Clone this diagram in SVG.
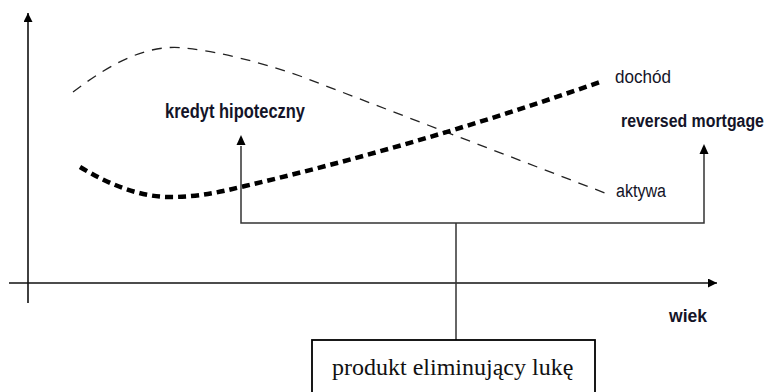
<svg xmlns="http://www.w3.org/2000/svg" width="772" height="392" viewBox="0 0 772 392">
<style>
.axis{stroke:#111;stroke-width:1.6;fill:none}
.br{stroke:#333;stroke-width:1.5;fill:none}
.thin{stroke:#222;stroke-width:1.3;fill:none;stroke-dasharray:10 8}
.thick{stroke:#000;stroke-width:4.5;fill:none;stroke-dasharray:8 5}
.lbl{font-family:"Liberation Sans",Arial,sans-serif;fill:#141428}
.b{font-weight:bold}
.box{fill:#fff;stroke:#000;stroke-width:1.8}
.serif{font-family:"Liberation Serif","Times New Roman",serif;font-size:24px;fill:#111}
</style>
<defs>
<marker id="ah" viewBox="0 0 10 10" refX="10" refY="5" markerWidth="10" markerHeight="9" markerUnits="userSpaceOnUse" orient="auto">
<path d="M0,0 L10,5 L0,10 Z" fill="#000"/>
</marker>
</defs>
<g id="axes">
<line class="axis" x1="28" y1="303" x2="28" y2="13" marker-end="url(#ah)"/>
<line class="axis" x1="9" y1="283" x2="717" y2="283" marker-end="url(#ah)"/>
</g>
<g id="curves">
<path id="aktywa-curve" class="thin" d="M73,92 C115,60 150,44 185,48 S260,62 300,76 L605,193"/>
<path id="dochod-curve" class="thick" d="M80,167 C110,185 140,197 170,197 C200,197 220,192 245,186 Q420,145 600,82"/>
</g>
<g id="connectors">
<polyline class="br" points="241,146 241,223 704,223 704,154"/>
<path d="M241,135 L236.5,145 L245.5,145 Z" fill="#000"/>
<path d="M704,144 L699.5,154 L708.5,154 Z" fill="#000"/>
<line class="br" x1="456" y1="223" x2="456" y2="340"/>
</g>
<g id="labels">
<text class="lbl b" x="165" y="118" font-size="20" textLength="140" lengthAdjust="spacingAndGlyphs">kredyt hipoteczny</text>
<text class="lbl b" transform="translate(621,127) scale(0.836,1)" x="0" y="0" font-size="19">reversed mortgage</text>
<text class="lbl" x="615" y="83" font-size="18" textLength="56" lengthAdjust="spacingAndGlyphs">dochód</text>
<text class="lbl" x="616" y="197" font-size="18" textLength="50" lengthAdjust="spacingAndGlyphs">aktywa</text>
<text class="lbl b" x="669" y="322" font-size="19" textLength="38" lengthAdjust="spacingAndGlyphs">wiek</text>
</g>
<g id="product-box">
<rect class="box" x="312" y="340" width="283" height="60"/>
<text class="serif" x="332" y="375">produkt eliminujący lukę</text>
</g>
</svg>
